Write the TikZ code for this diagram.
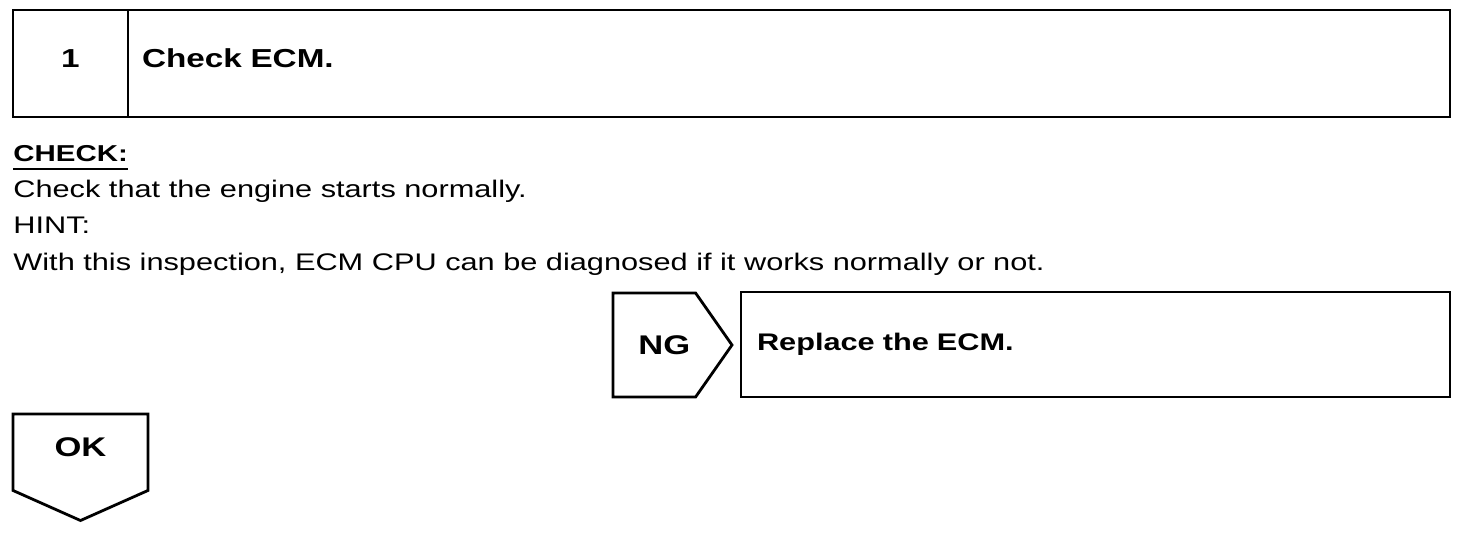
\documentclass[tikz,border=0pt]{standalone}
\usepackage{fontspec}
\setmainfont{Liberation Sans}[FakeStretch=1.28]
\usetikzlibrary{shapes.symbols,positioning}

\begin{document}
\begin{tikzpicture}[
        x=0.5pt, y=0.5pt,
        every node/.style={font=\fontsize{12}{14}\selectfont},
        stepbox/.style={draw, line width=1.4pt, outer sep=0pt, anchor=north west},
        resultbox/.style={draw, line width=1.4pt, outer sep=0pt, shape=signal, inner sep=0pt,
                          font=\fontsize{13.5}{15}\selectfont\bfseries},
        bodytext/.style={anchor=base west, inner sep=0pt}
    ]
    \useasboundingbox (0,0) rectangle (1472,532);

    % Header
      \node (numbox)[stepbox, minimum width=57.5pt, minimum height=53.5pt, text depth=5pt,
                     font=\fontsize{13}{15}\selectfont] at (13,522) {\textbf{1}};
      \node (titlebox)[stepbox, right=0pt of numbox, anchor=west, minimum height=53.5pt, text depth=5pt,
                       text width=647pt, inner xsep=7pt, align=left,
                       font=\fontsize{13}{15}\selectfont] {\textbf{Check ECM.}};

    % Text
      \node (chk)[bodytext, font=\fontsize{11.5}{14}\selectfont] at (13,371) {\textbf{CHECK:}};
      \draw[line width=1pt] ([yshift=-4pt]chk.base west) -- ([yshift=-4pt]chk.base east);
      \node (chkline)[bodytext] at (13,335) {Check that the engine starts normally.};
      \node (hint)[bodytext] at (13,299) {HINT:};
      \node (hintline)[bodytext] at (13,262) {With this inspection, ECM CPU can be diagnosed if it works normally or not.};

    % Results
      \node (ng)[resultbox, signal to=east, signal pointer angle=110, anchor=west,
                 minimum width=59.5pt, minimum height=52pt] at (613,187) {\hspace*{10pt}NG};
      \node (replace)[stepbox, minimum height=52.5pt, text width=338.5pt,
                      inner xsep=8pt, align=left] at (741,240) {\textbf{Replace the ECM.}};
      \node (ok)[resultbox, signal to=south, signal pointer angle=132, anchor=north, text depth=5pt,
                 minimum width=67.5pt, minimum height=44pt] at (80.5,118) {OK};

\end{tikzpicture}
\end{document}
